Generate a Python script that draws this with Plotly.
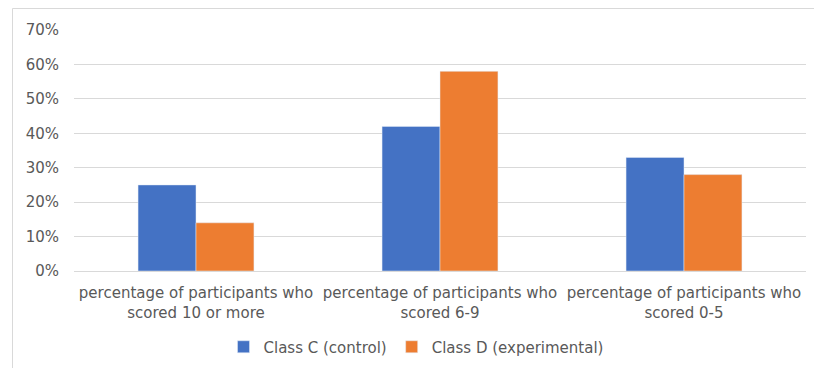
import plotly.graph_objects as go

categories = ["percentage of participants who<br>scored 10 or more",
              "percentage of participants who<br>scored 6-9",
              "percentage of participants who<br>scored 0-5"]
class_c = [0.25, 0.42, 0.33]
class_d = [0.14, 0.58, 0.28]
series_names = ["Class C (control)", "Class D (experimental)"]
tick_vals = [0, 0.1, 0.2, 0.3, 0.4, 0.5, 0.6, 0.7]

W, H = 814, 368
ml, mr, mt, mb = 74, 8, 30, 97
pw, ph = W - ml - mr, H - mt - mb

fig = go.Figure()
fig.add_bar(x=categories, y=class_c, name=series_names[0], marker_color="#4472C4")
fig.add_bar(x=categories, y=class_d, name=series_names[1], marker_color="#ED7D31")

font = "DejaVu Sans"
fs = 15
fig.update_layout(
    width=W, height=H,
    margin=dict(l=ml, r=mr, t=mt, b=mb, autoexpand=False),
    paper_bgcolor="white", plot_bgcolor="white",
    barmode="group", bargap=0.525, bargroupgap=0,
    font=dict(family=font, size=fs, color="#595959"),
    showlegend=True,
    legend=dict(orientation="h", x=(416 - ml) / pw, xanchor="center",
                y=(271 - 347) / ph, yanchor="middle",
                font=dict(size=fs, color="#595959"), itemwidth=30,
                traceorder="normal"),
    xaxis=dict(showgrid=False, showline=True, linecolor="#d9d9d9", linewidth=1,
               ticks="", ticklabelstandoff=8, automargin=False,
               tickfont=dict(size=fs, color="#595959")),
    yaxis=dict(range=[0, 0.7], tickvals=tick_vals, tickformat=".0%",
               showgrid=True, gridcolor="#d9d9d9", gridwidth=1,
               zeroline=False, showline=False, ticks="",
               ticklabelstandoff=14, automargin=False,
               tickfont=dict(size=fs, color="#595959")),
    shapes=[dict(type="rect", xref="paper", yref="paper",
                 x0=(12.5 - ml) / pw, x1=(W + 20 - ml) / pw,
                 y0=(271 - (H + 20)) / ph, y1=(271 - 8.5) / ph,
                 line=dict(color="#d9d9d9", width=1), fillcolor="rgba(0,0,0,0)",
                 layer="below")],
)

fig.write_html("out.html")
